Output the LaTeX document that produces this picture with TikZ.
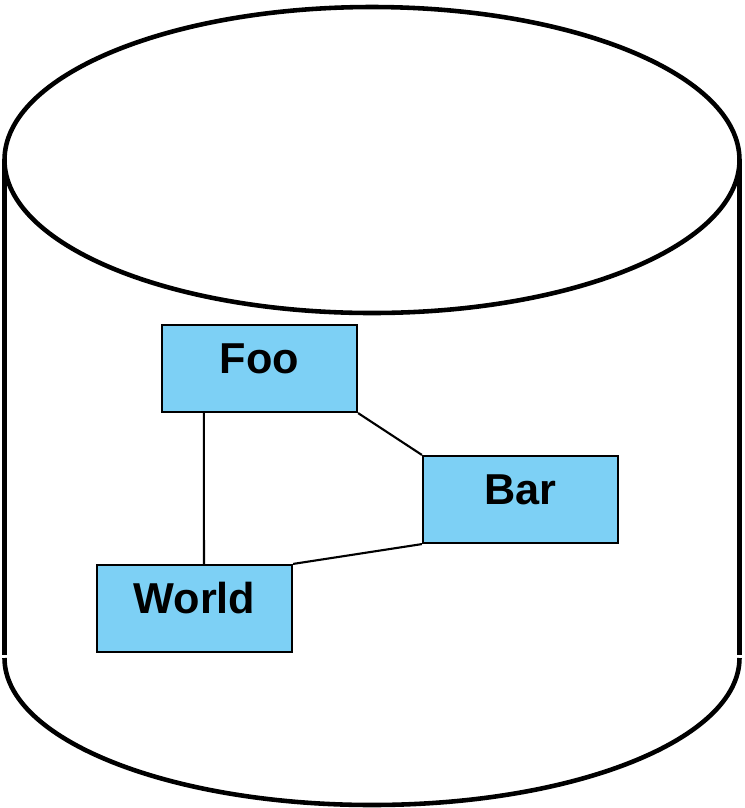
\documentclass[tikz,border=0pt]{standalone}
\usepackage{fontspec}
\setmainfont{Liberation Sans}
\usepackage{xcolor}
\usetikzlibrary{
    positioning,
    calc
}
\definecolor{boxblue}{RGB}{125,208,245}

\begin{document}
\begin{tikzpicture}[x=0.01cm,y=-0.01cm,
                db line/.style={line width=1.3pt},
                item/.style={draw,fill=boxblue,line width=0.6pt,minimum width=1.95cm,inner sep=0pt,text height=0.48cm,text depth=0.39cm,font=\fontsize{12.3}{14}\selectfont\bfseries},
                link/.style={line width=0.6pt}]
                \useasboundingbox (0,0) rectangle (744,808);
                % the store
                \draw[db line] (372,160) ellipse [x radius=367.5,y radius=153];
                \foreach \x in {4.5,739.5} \draw[db line] (\x,160) -- (\x,655);
                \draw[db line] (4.5,658) arc [start angle=180,end angle=0,x radius=367.5,y radius=147];
                % the items
                \node[item] (foo) at (259.5,368.5) {Foo};
                \node[item] (bar) at (520.5,499.5) {Bar};
                \node[item] (world) at (194.5,608.5) {World};
                \draw[link] ([xshift=0.43cm]foo.south west) -- ([xshift=1.08cm]world.north west);
                \draw[link] (foo.south east) -- (bar.north west);
                \draw[link] (world.north east) -- (bar.south west);
            \end{tikzpicture}
\end{document}
